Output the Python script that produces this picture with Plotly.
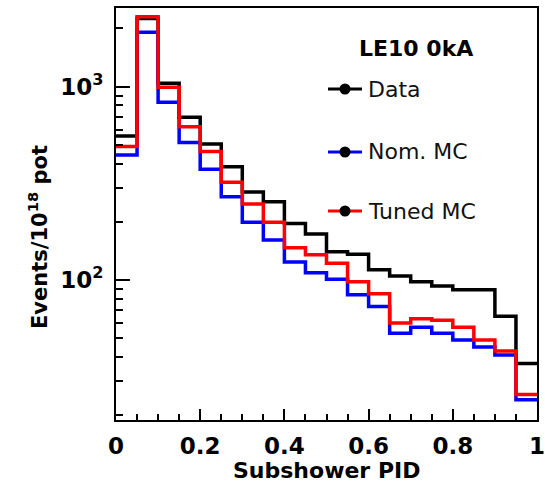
import plotly.graph_objects as go

# Bin edges of Subshower PID (20 bins, width 0.05)
bin_edges = [round(0.05 * i, 2) for i in range(21)]

data_vals = [556, 2250, 1041, 695, 506, 385, 285, 254, 196, 173,
             140, 136, 113, 105, 98, 93, 89, 89, 65, 37]
nom_mc_vals = [443, 1910, 830, 515, 374, 270, 199, 161, 124, 109,
               101, 84, 73, 53, 57, 53, 49, 45, 41, 24]
tuned_mc_vals = [490, 2300, 993, 621, 462, 320, 247, 199, 147, 135,
                 122, 98, 85, 60, 63, 62, 57, 49, 43, 25.6]

series_names = ["Data", "Nom. MC", "Tuned MC"]
series_colors = ["#000000", "#0000ff", "#ff0000"]
series_vals = [data_vals, nom_mc_vals, tuned_mc_vals]

legend_title = "LE10 0kA"
x_title = "Subshower PID"
y_title = "Events/10<sup>18</sup> pot"

FONT = "DejaVu Sans"

fig = go.Figure()
for name, color, vals in zip(series_names, series_colors, series_vals):
    fig.add_trace(go.Scatter(
        x=bin_edges, y=vals + [vals[-1]], mode="lines", name=name,
        line=dict(color=color, width=3.5, shape="hv"), showlegend=False,
    ))

# Plot area geometry (pixels) for placing the manual legend
L, R, T, B = 116, 537, 8, 420
W, H = 545, 483
def px(x):
    return (x - L) / (R - L)
def py(y):
    return (B - y) / (B - T)

shapes = []
annotations = []
legend_y = [89, 152, 211]
for name, color, yy in zip(series_names, series_colors, legend_y):
    shapes.append(dict(type="line", xref="paper", yref="paper",
                       x0=px(328), x1=px(362), y0=py(yy), y1=py(yy),
                       line=dict(color=color, width=3)))
    r = 5.5
    shapes.append(dict(type="circle", xref="paper", yref="paper",
                       x0=px(345 - r), x1=px(345 + r), y0=py(yy + r), y1=py(yy - r),
                       fillcolor="black", line=dict(color="black", width=0)))
    annotations.append(dict(text=name, xref="paper", yref="paper",
                            x=px(366), y=py(yy), xanchor="left", yanchor="middle",
                            showarrow=False, font=dict(family=FONT, size=22, color="#111111")))

annotations.append(dict(text=legend_title, xref="paper", yref="paper",
                        x=px(416), y=py(49), xanchor="center", yanchor="middle",
                        showarrow=False,
                        font=dict(family=FONT, size=22, color="black", weight="bold")))
annotations.append(dict(text=x_title, xref="paper", yref="paper",
                        x=px(326), y=py(470), xanchor="center", yanchor="middle",
                        showarrow=False,
                        font=dict(family=FONT, size=22, color="black", weight="bold")))
annotations.append(dict(text=y_title, xref="paper", yref="paper",
                        x=px(38), y=py(237), xanchor="center", yanchor="middle",
                        textangle=-90, showarrow=False,
                        font=dict(family=FONT, size=21, color="black", weight="bold")))

fig.update_layout(
    width=W, height=H,
    margin=dict(l=L, r=W - R, t=T, b=H - B),
    paper_bgcolor="white", plot_bgcolor="white",
    shapes=shapes, annotations=annotations,
    showlegend=False,
)

fig.update_xaxes(
    range=[0, 1], showgrid=False, zeroline=False, automargin=False,
    showline=True, linecolor="black", linewidth=2, mirror=True,
    ticks="inside", ticklen=11, tickwidth=2, tickcolor="black",
    tickvals=[0, 0.2, 0.4, 0.6, 0.8, 1], ticktext=["0", "0.2", "0.4", "0.6", "0.8", "1"],
    minor=dict(ticks="inside", ticklen=6, tickwidth=2, tickcolor="black",
               tickvals=[round(0.05 * i, 2) for i in range(21)]),
    tickfont=dict(family=FONT, size=23, color="black", weight="bold"),
    ticklabelstandoff=4, ticklabeloverflow="allow",
)

fig.update_yaxes(
    type="log", range=[1.276, 3.407], showgrid=False, zeroline=False, automargin=False,
    showline=True, linecolor="black", linewidth=2, mirror=True,
    ticks="inside", ticklen=14, tickwidth=2, tickcolor="black",
    tickvals=[100, 1000], ticktext=["10<sup>2</sup>", "10<sup>3</sup>"],
    minor=dict(ticks="inside", ticklen=7, tickwidth=2, tickcolor="black",
               tickvals=[20, 30, 40, 50, 60, 70, 80, 90,
                         200, 300, 400, 500, 600, 700, 800, 900, 2000]),
    tickfont=dict(family=FONT, size=23, color="black", weight="bold"),
    ticklabelstandoff=6, ticklabeloverflow="allow",
)

fig.write_html("out.html")
